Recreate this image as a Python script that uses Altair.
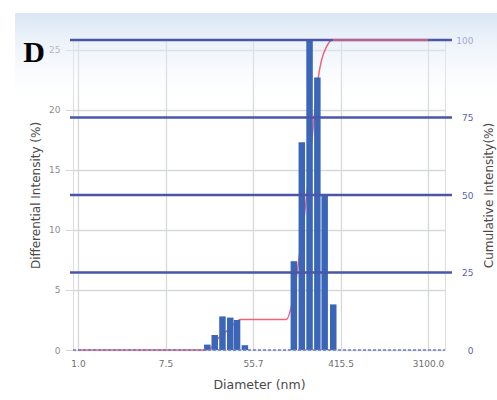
import altair as alt
import pandas as pd

# Differential intensity histogram (bin centre diameter, nm -> %)
bin_diameter = [19.5, 23.1, 27.6, 33.0, 38.6, 46.2,
                142.2, 170.7, 204.0, 244.0, 288.6, 351.6]
diff_intensity = [0.45, 1.25, 2.8, 2.7, 2.5, 0.4,
                  7.4, 17.3, 25.8, 22.7, 12.9, 3.8]

# Cumulative intensity curve (diameter, nm -> %)
cum_diameter = [1.0, 18.27, 20.9, 24.4, 29.9, 34.9, 41.8, 119.3, 137.4,
                156.1, 192.1, 223.2, 249.6, 268.6, 300.4, 348.9, 3100.0]
cum_intensity = [0, 0, 0.5, 3.4, 5.9, 8.0, 9.8, 9.8, 15.6,
                 27.0, 50.7, 73.0, 88.0, 93.5, 97.8, 100, 100]

x_ticks = [1.0, 7.462, 55.68, 415.5, 3100.0]
left_ticks = [0, 5, 10, 15, 20, 25]
right_ticks = [0, 25, 50, 75, 100]
ref_levels = [25, 50, 75, 100]

bars_df = pd.DataFrame({"d": bin_diameter, "v": diff_intensity})
cum_df = pd.DataFrame({"d": cum_diameter, "c": cum_intensity})
ref_df = pd.DataFrame({"c": ref_levels})
dummy = pd.DataFrame({"a": [1]})

FONT = "DejaVu Sans"
GRID = "#d5d9dc"
RED = "#f2617a"
W, H = 372, 310

x_scale = alt.Scale(type="log", domain=[1, 4080], nice=False)
x_axis = alt.Axis(values=x_ticks, format=".1f", grid=True, gridColor=GRID,
                  gridWidth=1.3, ticks=False, domain=False, labelFlush=False,
                  labelColor="#6f6f6f", labelFontSize=9, labelFont=FONT,
                  labelPadding=9, title="Diameter (nm)", titleFont=FONT,
                  titleFontSize=12.5, titleFontWeight="normal",
                  titleColor="#4a4a4a", titleY=34, titleBaseline="middle")

def xenc():
    return alt.X("d:Q", scale=x_scale, axis=x_axis)

right_scale = alt.Scale(domain=[0, 100], nice=False)
right_axis = alt.Axis(orient="right", values=right_ticks, grid=False,
                      domain=False, ticks=False, labelAlign="right",
                      labelPadding=28, labelColor="#5a5fae",
                      labelFontSize=9, labelFont=FONT,
                      title="Cumulative Intensity(%)", titleFont=FONT,
                      titleFontSize=12, titleFontWeight="normal",
                      titleColor="#4a4a4a", titleAngle=270, titleX=43,
                      titleY=H / 2, titleBaseline="middle",
                      titleAlign="center")

bg = alt.Chart(dummy).mark_rect(
    fill=alt.LinearGradient(
        gradient="linear", x1=0, y1=0, x2=0, y2=1,
        stops=[alt.GradientStop(color="rgba(205,222,240,0.75)", offset=0),
               alt.GradientStop(color="rgba(255,255,255,0)", offset=1)]),
).encode(x=alt.value(-58), x2=alt.value(424), y=alt.value(-27), y2=alt.value(72))

line = alt.Chart(cum_df).mark_line(color=RED, strokeWidth=1.5,
                                   interpolate="monotone").encode(
    x=xenc(),
    y=alt.Y("c:Q", scale=right_scale, axis=right_axis),
)

bars = alt.Chart(bars_df).mark_bar(size=6.5, color="#3b66b8").encode(
    x=xenc(),
    y=alt.Y("v:Q", scale=alt.Scale(domain=[0, 25.83], nice=False),
            axis=alt.Axis(values=left_ticks, grid=True, gridColor=GRID,
                          gridWidth=1.3, tickColor=GRID, tickSize=8,
                          domain=False, labelColor="#8c8c8c", labelFontSize=9,
                          labelFont=FONT, labelPadding=5,
                          title="Differential Intensity (%)", titleFont=FONT,
                          titleFontSize=12, titleFontWeight="normal",
                          titleColor="#4a4a4a", titleAngle=270, titleX=-38,
                          titleY=H / 2, titleBaseline="middle",
                          titleAlign="center")),
)

rules = alt.Chart(ref_df).mark_rule(color="#4a56a8", strokeWidth=2.6).encode(
    y=alt.Y("c:Q", scale=right_scale, axis=None),
    x=alt.value(-3), x2=alt.value(379),
)

# the saturated (100 %) tail of the cumulative curve is drawn over the rules
line_top = alt.Chart(cum_df).transform_filter(
    alt.datum.d >= 340
).mark_line(color=RED, strokeWidth=1.5).encode(
    x=xenc(),
    y=alt.Y("c:Q", scale=right_scale, axis=None),
)

zero = alt.Chart(dummy).mark_rule(color="#6d7ac4", strokeWidth=1.5,
                                  strokeDash=[3, 2]).encode(
    y=alt.value(H), x=alt.value(0), x2=alt.value(W))

label = alt.Chart(dummy).mark_text(text="D", font="Liberation Serif",
                                   fontWeight="bold", fontSize=30,
                                   color="#000000", align="center",
                                   baseline="middle").encode(
    x=alt.value(-39), y=alt.value(13))

chart = alt.layer(bg, line, bars, rules, line_top, zero, label).resolve_scale(
    y="independent"
).properties(
    width=W, height=H, autosize=alt.AutoSizeParams(type="none"),
    padding={"left": 73, "top": 40, "right": 52, "bottom": 50},
).configure_view(stroke=GRID, strokeWidth=1.3).configure(background="white")

chart.save("out.html", embed_options={"renderer": "svg", "actions": False})
